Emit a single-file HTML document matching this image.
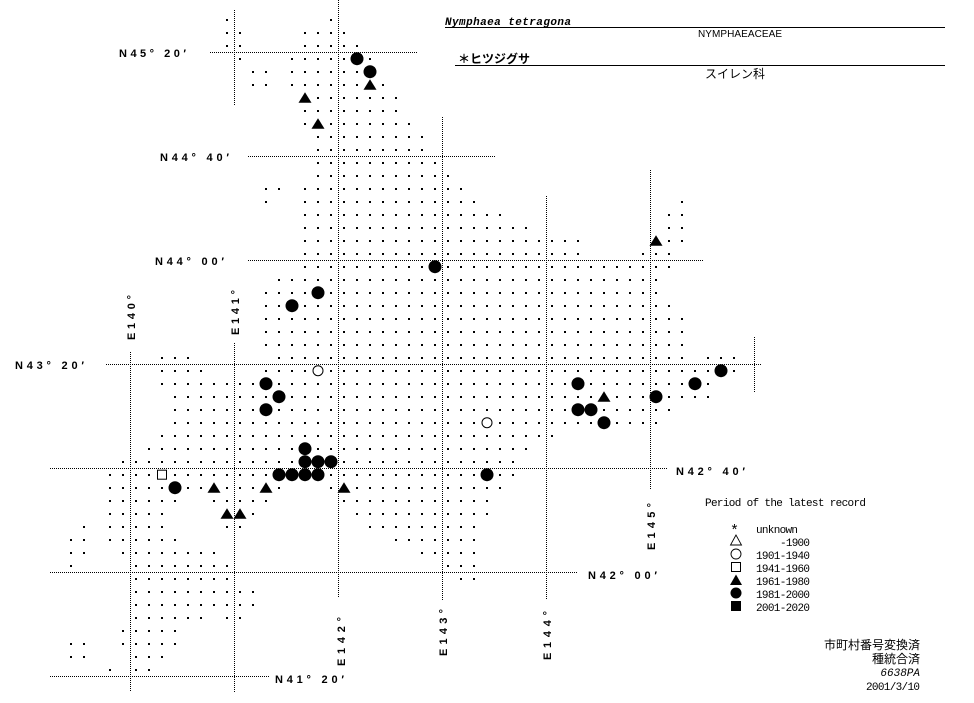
<!DOCTYPE html>
<html><head><meta charset="utf-8">
<style>
html,body{margin:0;padding:0;background:#fff;}
body{width:974px;height:703px;overflow:hidden;position:relative;}
svg{position:absolute;left:0;top:0;}
.lab{font-family:"Liberation Sans",sans-serif;font-weight:bold;font-size:11px;letter-spacing:3px;fill:#000;}
.mono{font-family:"Liberation Mono",monospace;font-size:11px;fill:#000;}
.jp{font-family:"Liberation Sans","Noto Sans CJK JP",sans-serif;fill:#000;}
</style></head><body>
<svg id="s" width="974" height="703" viewBox="0 0 974 703" xmlns="http://www.w3.org/2000/svg">
<g stroke="#000" stroke-width="1" stroke-dasharray="1 1" shape-rendering="crispEdges" fill="none">
<line x1="234.5" y1="10" x2="234.5" y2="105"/>
<line x1="234.5" y1="343" x2="234.5" y2="692"/>
<line x1="338.5" y1="0" x2="338.5" y2="598"/>
<line x1="130.5" y1="352" x2="130.5" y2="692"/>
<line x1="442.5" y1="117" x2="442.5" y2="600"/>
<line x1="546.5" y1="196" x2="546.5" y2="600"/>
<line x1="650.5" y1="170" x2="650.5" y2="490"/>
<line x1="754.5" y1="337" x2="754.5" y2="392"/>
<line x1="210" y1="52.5" x2="417" y2="52.5"/>
<line x1="248" y1="156.5" x2="495" y2="156.5"/>
<line x1="248" y1="260.5" x2="703" y2="260.5"/>
<line x1="106" y1="364.5" x2="762" y2="364.5"/>
<line x1="50" y1="468.5" x2="668" y2="468.5"/>
<line x1="50" y1="572.5" x2="577" y2="572.5"/>
<line x1="50" y1="676.5" x2="270" y2="676.5"/>
</g>
<g id="dots" fill="#000" shape-rendering="crispEdges"></g>
<g id="marks" fill="#000"></g>

<text class="lab" x="119" y="57" textLength="70">N45° 20′</text>
<text class="lab" x="160" y="161" textLength="72">N44° 40′</text>
<text class="lab" x="155" y="265" textLength="72">N44° 00′</text>
<text class="lab" x="15" y="369" textLength="72">N43° 20′</text>
<text class="lab" x="676" y="475" textLength="72">N42° 40′</text>
<text class="lab" x="588" y="579" textLength="72">N42° 00′</text>
<text class="lab" x="275" y="683" textLength="72">N41° 20′</text>
<text class="lab" transform="translate(135,340) rotate(-90)" textLength="48">E140°</text>
<text class="lab" transform="translate(239,335) rotate(-90)" textLength="48">E141°</text>
<text class="lab" transform="translate(345,666) rotate(-90)" textLength="52">E142°</text>
<text class="lab" transform="translate(447,656) rotate(-90)" textLength="50">E143°</text>
<text class="lab" transform="translate(551,660) rotate(-90)" textLength="52">E144°</text>
<text class="lab" transform="translate(655,550) rotate(-90)" textLength="50">E145°</text>

<text x="445" y="25" style="font-family:'Liberation Mono',monospace;font-weight:bold;font-style:italic;font-size:11px;" textLength="126">Nymphaea tetragona</text>
<line x1="445" y1="27.5" x2="945" y2="27.5" stroke="#000"/>
<text x="740" y="37" text-anchor="middle" style="font-family:'Liberation Sans',sans-serif;font-size:10px;" textLength="84">NYMPHAEACEAE</text>
<text class="jp" x="458" y="63" style="font-size:12px;font-weight:bold;">＊ヒツジグサ</text>
<line x1="455" y1="65.5" x2="945" y2="65.5" stroke="#000"/>
<text class="jp" x="735" y="78" text-anchor="middle" style="font-size:12px;">スイレン科</text>

<text class="mono" x="705" y="506" textLength="161">Period of the latest record</text>
<text class="mono" x="730" y="535" style="font-size:15px;">*</text>
<text class="mono" x="756" y="533" textLength="42">unknown</text>
<polygon points="736,535 730.5,545 741.5,545" fill="none" stroke="#000" stroke-width="0.9"/>
<text class="mono" x="810" y="546" text-anchor="end" textLength="30">-1900</text>
<circle cx="736" cy="554" r="5" fill="none" stroke="#000" stroke-width="0.9"/>
<text class="mono" x="756" y="559" textLength="54">1901-1940</text>
<rect x="731.5" y="562.5" width="9" height="9" fill="none" stroke="#000"/>
<text class="mono" x="756" y="572" textLength="54">1941-1960</text>
<polygon points="736,574.5 730,585 742,585" fill="#000"/>
<text class="mono" x="756" y="585" textLength="54">1961-1980</text>
<circle cx="736" cy="593" r="5.5" fill="#000"/>
<text class="mono" x="756" y="598" textLength="54">1981-2000</text>
<rect x="731" y="601" width="10" height="10" fill="#000"/>
<text class="mono" x="756" y="611" textLength="54">2001-2020</text>

<text class="jp" x="920" y="649" text-anchor="end" style="font-size:12px;">市町村番号変換済</text>
<text class="jp" x="920" y="663" text-anchor="end" style="font-size:12px;">種統合済</text>
<text class="mono" x="920" y="676" text-anchor="end" style="font-style:italic;">6638PA</text>
<text class="mono" x="920" y="690" text-anchor="end" textLength="54">2001/3/10</text>
</svg>
<script>
(function(){
var rows={
0:[[9],[17]],1:[[9,10],[15,18]],2:[[9,10],[15,19]],3:[[10],[14,20]],4:[[11,12],[14,20]],
5:[[11,12],[14,21]],6:[[15,22]],7:[[15,22]],8:[[15,23]],9:[[16,24]],10:[[16,24]],11:[[16,25]],
12:[[16,26]],13:[[12,13],[15,27]],14:[[12],[15,28],[44]],15:[[15,30],[43,44]],16:[[15,32],[43,44]],
17:[[15,36],[42,44]],18:[[15,36],[41,43]],19:[[15,43]],20:[[13,42]],21:[[12,42]],22:[[12,43]],
23:[[12,44]],24:[[12,44]],25:[[12,44]],26:[[4,6],[13,44],[46,48]],27:[[4,7],[12,48]],28:[[4,46]],
29:[[5,46]],30:[[5,43]],31:[[5,42]],32:[[4,34]],33:[[3,32]],34:[[1,31]],35:[[0,31]],
36:[[0,13],[17,30]],37:[[0,5],[8,12],[18,29]],38:[[0,4],[9,11],[19,29]],39:[[-2],[0,4],[9,10],[20,28]],
40:[[-3,-2],[0,5],[22,28]],41:[[-3,-2],[1,8],[24,28]],42:[[-3],[2,9],[26,28]],43:[[2,9],[27,28]],
44:[[2,11]],45:[[2,11]],46:[[2,7],[9,10]],47:[[1,5]],48:[[-3,-2],[1,5]],49:[[-3,-2],[2,4]],50:[[0],[2,3]]
};
var marks=[['c',19,3],['c',20,4],['t',20,5],['t',15,6],['t',16,8],['c',25,19],['c',16,21],['c',14,22],
['o',16,27],['c',12,28],['c',13,29],['c',12,30],['c',15,33],['c',15,34],['c',16,34],['c',17,34],
['s',4,35],['c',13,35],['c',14,35],['c',15,35],['c',16,35],['c',29,35],['c',5,36],['t',8,36],['t',12,36],
['t',18,36],['t',9,38],['t',10,38],['t',42,17],['c',47,27],['c',36,28],['c',45,28],['t',38,29],['c',42,29],
['c',36,30],['c',37,30],['o',29,31],['c',38,31]];
var ns="http://www.w3.org/2000/svg";
function X(i){return 110+13*i;} function Y(j){return 19.7+13*j;}
var taken={};marks.forEach(function(m){taken[m[1]+','+m[2]]=1;});
var g=document.getElementById('dots');
for(var j in rows){rows[j].forEach(function(r){var a=r[0],b=r.length>1?r[1]:r[0];
for(var i=a;i<=b;i++){if(taken[i+','+j])continue;var e=document.createElementNS(ns,'rect');
e.setAttribute('x',Math.round(X(i))-1);e.setAttribute('y',Math.round(Y(+j))-1);
e.setAttribute('width',2);e.setAttribute('height',2);g.appendChild(e);}});}
var mg=document.getElementById('marks');
marks.forEach(function(m){var x=X(m[1]),y=Y(m[2]),e;
if(m[0]=='c'){e=document.createElementNS(ns,'circle');e.setAttribute('cx',x);e.setAttribute('cy',y);e.setAttribute('r',6.5);}
else if(m[0]=='o'){e=document.createElementNS(ns,'circle');e.setAttribute('cx',x);e.setAttribute('cy',y);e.setAttribute('r',5);e.setAttribute('fill','none');e.setAttribute('stroke','#000');}
else if(m[0]=='s'){e=document.createElementNS(ns,'rect');e.setAttribute('x',x-4.5);e.setAttribute('y',y-4.5);e.setAttribute('width',9);e.setAttribute('height',9);e.setAttribute('fill','none');e.setAttribute('stroke','#000');}
else {e=document.createElementNS(ns,'polygon');e.setAttribute('points',(x)+','+(y-5.5)+' '+(x-6.5)+','+(y+5)+' '+(x+6.5)+','+(y+5));}
mg.appendChild(e);});
})();
</script>
</body></html>
